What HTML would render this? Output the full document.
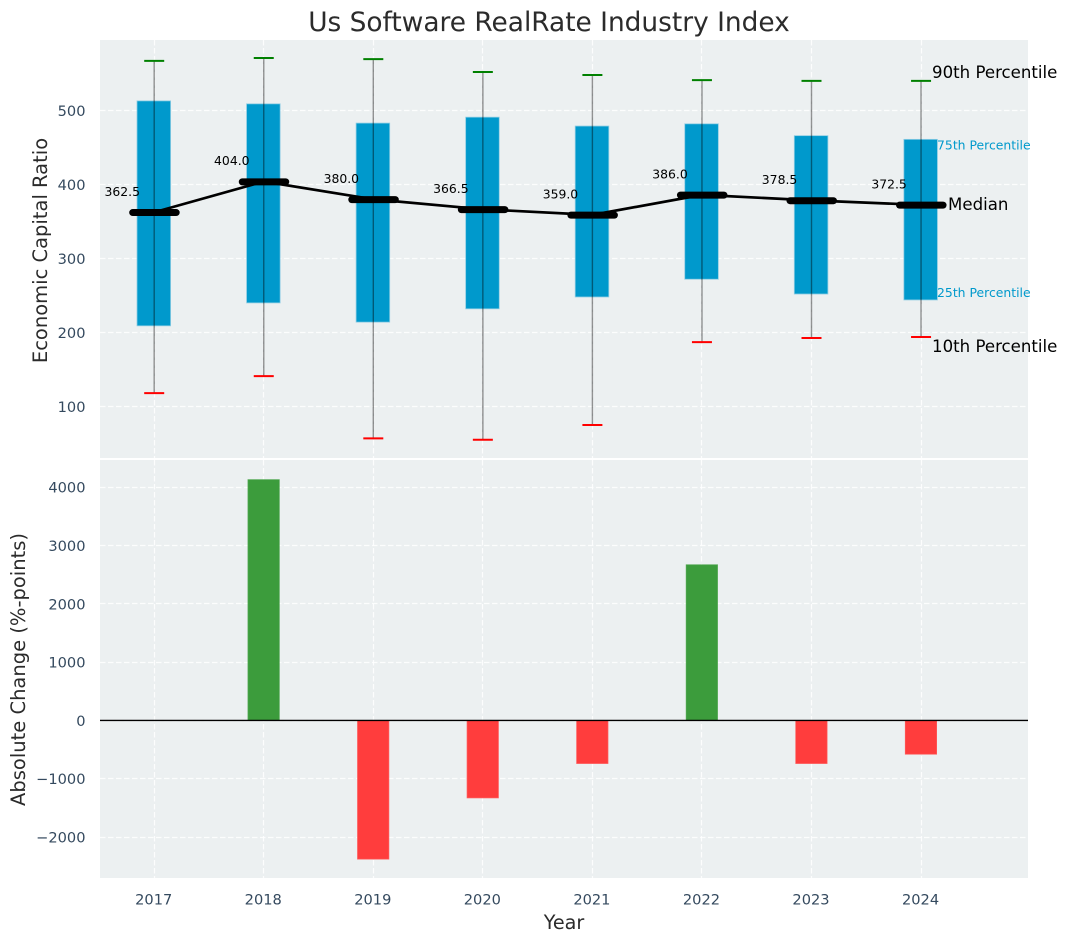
<!DOCTYPE html>
<html lang="en">
<head>
<meta charset="utf-8">
<title>Us Software RealRate Industry Index</title>
<style>
html,body{margin:0;padding:0;background:#fff;}
svg{display:block;font-family:"DejaVu Sans","Liberation Sans",sans-serif;}
</style>
</head>
<body>
<svg id="chart" xmlns="http://www.w3.org/2000/svg" width="1067" height="942" viewBox="0 0 1067 942"></svg>
<script>
const years = [2017, 2018, 2019, 2020, 2021, 2022, 2023, 2024];
const medians = [362.5, 404.0, 380.0, 366.5, 359.0, 386.0, 378.5, 372.5];
const p90 = [567, 571, 569.5, 552, 548, 541, 540, 540];
const p10 = [118, 141, 57, 55, 75, 187, 192.5, 194];
const q3 = [513, 509, 483, 491, 479, 482, 466, 461];
const q1 = [209, 240, 214, 232, 248, 272, 252, 244];
const changes = [0, 4130, -2380, -1330, -740, 2670, -740, -580];
const topTicks = [100, 200, 300, 400, 500];
const bottomTicks = [-2000, -1000, 0, 1000, 2000, 3000, 4000];

const NS = 'http://www.w3.org/2000/svg';
const svg = document.getElementById('chart');
const L = 100, R = 1028, T1 = 40, B1 = 458, T2 = 460, B2 = 878;
const xAxis = v => 154.2 + (v - 2017) * 109.55;
const yTop = v => 480.5 - 0.74 * v;
const yBottom = v => 720.4 - 0.0583 * v;
const snap = p => Math.floor(p) + 0.5;
const fmt = v => v < 0 ? '\u2212' + Math.abs(v) : String(v);

function make(tag, attrs, text) {
  const el = document.createElementNS(NS, tag);
  for (const k in attrs) el.setAttribute(k, attrs[k]);
  if (text !== undefined) el.textContent = text;
  svg.appendChild(el);
  return el;
}
let el;

el = make('rect', {x: L, y: T1, width: R - L, height: B1 - T1, fill: '#ecf0f1'});


el = make('rect', {x: L, y: T2, width: R - L, height: B2 - T2, fill: '#ecf0f1'});



const gridStyle = {stroke: '#ffffff', 'stroke-width': 1.2, 'stroke-dasharray': '5.5 2.5', fill: 'none', opacity: 0.85};
topTicks.forEach(t => {
  const e = make('line', {x1: L, x2: R, y1: snap(yTop(t)), y2: snap(yTop(t)), ...gridStyle});
  
  
  const lab = make('text', {x: 85.5, y: yTop(t) + 5.5, 'text-anchor': 'end', 'font-size': 14.6, fill: '#34495e'}, fmt(t));
  
  
});
bottomTicks.forEach(t => {
  const e = make('line', {x1: L, x2: R, y1: snap(yBottom(t)), y2: snap(yBottom(t)), ...gridStyle});
  
  
  const lab = make('text', {x: 85.5, y: yBottom(t) + 5.5, 'text-anchor': 'end', 'font-size': 14.6, fill: '#34495e'}, fmt(t));
  
  
});
years.forEach(y => {
  const a = make('line', {x1: snap(xAxis(y)), x2: snap(xAxis(y)), y1: T1, y2: B1, ...gridStyle});
  
  
  const b = make('line', {x1: snap(xAxis(y)), x2: snap(xAxis(y)), y1: T2, y2: B2, ...gridStyle});
  
  
  const lab = make('text', {x: xAxis(y) - 0.5, y: 904.5, 'text-anchor': 'middle', 'font-size': 14.6, fill: '#34495e'}, String(y));
  
  
});

years.forEach((y, i) => {
  const cx = xAxis(y);
  const box = make('rect', {x: cx - 17.2, y: yTop(q3[i]), width: 33.6, height: yTop(q1[i]) - yTop(q3[i]), fill: '#0099cc', stroke: '#8fcde3', 'stroke-width': 0.8});
  
  
  const wh = make('line', {x1: cx, x2: cx, y1: yTop(p90[i]), y2: yTop(p10[i]), stroke: '#000', 'stroke-opacity': 0.42, 'stroke-width': 1.4});
  
  
  const hi = make('line', {x1: cx - 10, x2: cx + 10, y1: yTop(p90[i]), y2: yTop(p90[i]), stroke: '#008000', 'stroke-width': 2});
  
  
  const lo = make('line', {x1: cx - 10, x2: cx + 10, y1: yTop(p10[i]), y2: yTop(p10[i]), stroke: '#ff0000', 'stroke-width': 2});
  
  
});

const trend = make('polyline', {points: years.map((y, i) => xAxis(y) + ',' + yTop(medians[i])).join(' '), fill: 'none', stroke: '#000', 'stroke-width': 2.7});



years.forEach((y, i) => {
  const cx = xAxis(y);
  const m = make('line', {x1: cx - 21.5, x2: cx + 22, y1: yTop(medians[i]) + 0.3, y2: yTop(medians[i]) + 0.3, stroke: '#000', 'stroke-width': 7, 'stroke-linecap': 'round'});
  
  
  const t = make('text', {x: cx - 49.7, y: yTop(medians[i]) - 16.4, 'font-size': 12.4, fill: '#000'}, medians[i].toFixed(1));
  
  
});

const last = years.length - 1;
const lx = xAxis(years[last]);
el = make('text', {x: lx + 11, y: yTop(p90[last]) - 3, 'font-size': 16.6, fill: '#000'}, '90th Percentile');


el = make('text', {x: lx + 16, y: yTop(q3[last]) + 10, 'font-size': 12.4, fill: '#0099cc'}, '75th Percentile');


el = make('text', {x: lx + 27, y: yTop(medians[last]) + 5, 'font-size': 16.6, fill: '#000'}, 'Median');


el = make('text', {x: lx + 16, y: yTop(q1[last]) - 3, 'font-size': 12.4, fill: '#0099cc'}, '25th Percentile');


el = make('text', {x: lx + 11, y: yTop(p10[last]) + 15, 'font-size': 16.6, fill: '#000'}, '10th Percentile');



years.forEach((y, i) => {
  if (changes[i] === 0) return;
  const cx = xAxis(y);
  const top = Math.min(yBottom(0), yBottom(changes[i]));
  const h = Math.abs(yBottom(changes[i]) - yBottom(0));
  const bar = make('rect', {x: cx - 15.8, y: top, width: 31.4, height: h, fill: changes[i] > 0 ? '#3c9c3c' : '#ff3d3d', stroke: changes[i] > 0 ? '#53a853' : '#ff5c5c', 'stroke-width': 0.7});
  
  
});

el = make('line', {x1: L, x2: R, y1: yBottom(0), y2: yBottom(0), stroke: '#000', 'stroke-width': 1.4});



el = make('text', {x: 549, y: 31, 'text-anchor': 'middle', 'font-size': 26.4, fill: '#2b2b2b'}, 'Us Software RealRate Industry Index');


el = make('text', {x: 564, y: 929, 'text-anchor': 'middle', 'font-size': 19.2, fill: '#2b2b2b'}, 'Year');


el = make('text', {transform: 'translate(47 250.5) rotate(-90)', 'text-anchor': 'middle', 'font-size': 19.5, fill: '#2b2b2b'}, 'Economic Capital Ratio');


el = make('text', {transform: 'translate(25 669.5) rotate(-90)', 'text-anchor': 'middle', 'font-size': 19.5, fill: '#2b2b2b'}, 'Absolute Change (%-points)');


</script>
</body>
</html>
